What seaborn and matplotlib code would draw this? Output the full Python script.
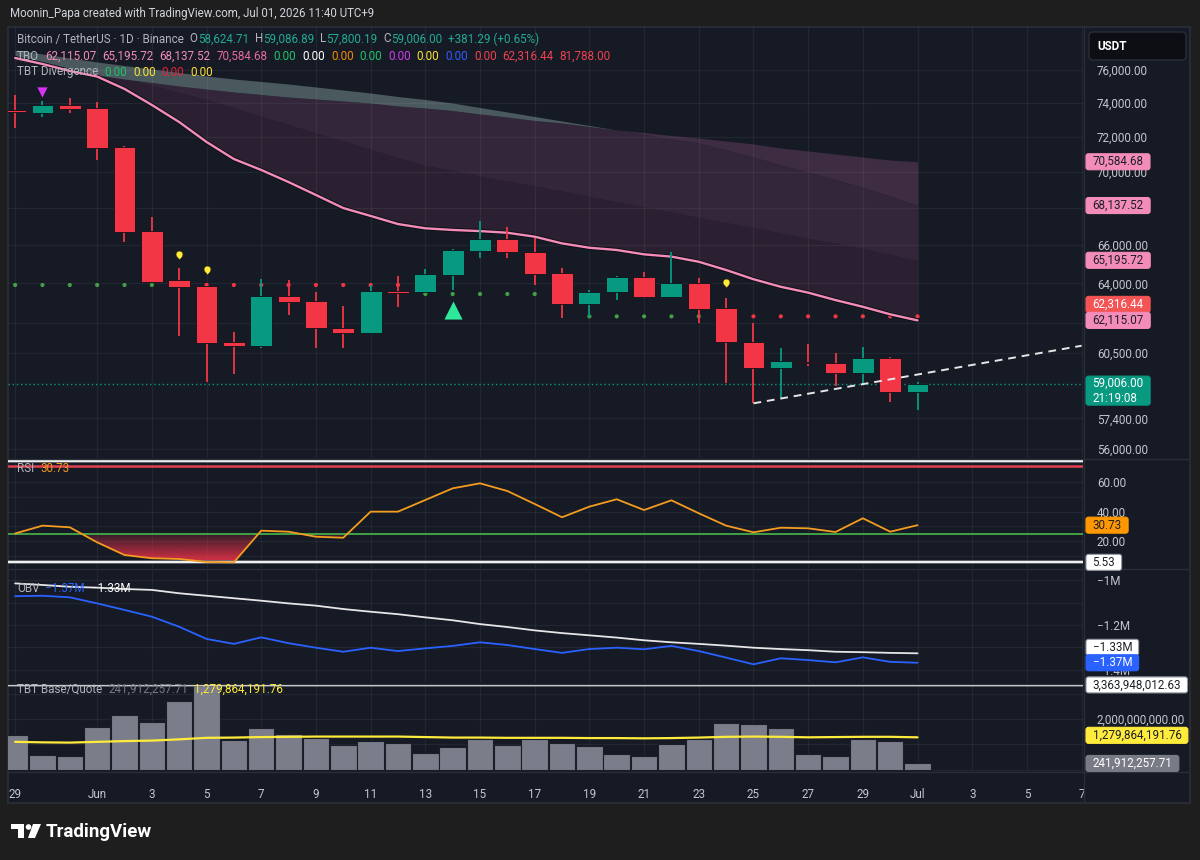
import numpy as np
import pandas as pd
import matplotlib
matplotlib.use("Agg")
import matplotlib.pyplot as plt
import matplotlib.patheffects as pe
from matplotlib.colors import ListedColormap
from matplotlib.path import Path
from matplotlib.patches import FancyBboxPatch, Rectangle, Circle, Polygon
from matplotlib.ticker import FixedLocator, FixedFormatter, NullLocator
import seaborn as sns

sns.set_theme(style="dark")
plt.rcParams["font.family"] = ["Roboto", "DejaVu Sans"]

# ---------------------------------------------------------------- data
dates = pd.date_range("2026-05-29", "2026-07-01", freq="D")

opens = [73590, 73430, 73890, 73690, 71440, 66750, 64170, 63880, 61060, 60860,
         63350, 63110, 61720, 61470, 63600, 63540, 64430, 65700, 66320, 65650,
         64520, 62920, 63540, 64310, 63280, 64000, 62720, 61060, 59760, 60080,
         60040, 59520, 60270, 58624.71]
highs = [74480, 74140, 74290, 74080, 71500, 67530, 64780, 64000, 61520, 64220,
         64170, 63540, 62840, 63910, 64380, 64760, 65800, 67310, 66990, 66360,
         64810, 63650, 64390, 64600, 65650, 64280, 63230, 61970, 60730, 60930,
         60520, 60780, 60300, 59086.89]
lows = [72530, 73190, 73390, 70680, 66180, 64050, 61340, 59120, 59470, 60730,
        62390, 60760, 60730, 61440, 62800, 63500, 63650, 65330, 65330, 63910,
        62250, 62300, 63140, 63260, 63250, 61970, 59070, 58100, 58330, 59870,
        58920, 59010, 58170, 57800.19]
closes = [73470, 73890, 73630, 71350, 66720, 64080, 63820, 61010, 60860, 63350,
          63060, 61720, 61470, 63620, 63520, 64460, 65740, 66320, 65620, 64460,
          62920, 63540, 64310, 63280, 64000, 62690, 61030, 59760, 60110, 60000,
          59520, 60250, 58625, 59006.00]

tbo_fast = [76740, 76370, 75940, 75600, 74850, 73890, 72880, 71720, 70740, 70120,
            69440, 68720, 68000, 67570, 67130, 66900, 66810, 66750, 66660, 66450,
            66090, 65860, 65740, 65510, 65390, 65120, 64690, 64210, 63820, 63520,
            63140, 62800, 62420, 62115.07]
tbo_mid = [76615, 76368, 76122, 75908, 75511, 75087, 74634, 74215, 73708, 73234,
           72734, 72238, 71774, 71284, 70825, 70372, 70088, 69778, 69497, 69218,
           68940, 68635, 68331, 68056, 67783, 67483, 67211, 66942, 66645, 66350,
           66111, 65818, 65501, 65195.72]
tbo_slow = [77235, 76986, 76739, 76492, 76276, 76061, 75847, 75634, 75451, 75299,
            75147, 74966, 74785, 74605, 74395, 74215, 74006, 73737, 73471, 73205,
            72940, 72676, 72413, 72151, 71890, 71659, 71256, 70854, 70400, 70003,
            69582, 69135, 68663, 68137.52]
tbo_slowest = [76615, 76307, 76000, 75694, 75451, 75238, 75026, 74845, 74665, 74514,
               74364, 74245, 74125, 74006, 73827, 73708, 73560, 73352, 73175, 72970,
               72822, 72618, 72413, 72268, 72093, 71948, 71774, 71601, 71371, 71198,
               71026, 70854, 70683, 70584.68]

tbo_stop = [63911, 63911, 63911, 63911, 63911, 63911, 63911, 63911, 63911, 63911,
            63911, 63911, 63911, 63911, 63911, 63449, 63449, 63449, 63449, 63449,
            63449, 62316.44, 62316.44, 62316.44, 62316.44, 62316.44, 62316.44, 62316.44,
            62316.44, 62316.44, 62316.44, 62316.44, 62316.44, 62316.44]
tbo_stop_side = ["up", "up", "up", "up", "up", "up", "down", "down", "down", "down",
                 "down", "down", "down", "down", "down", "up", "up", "up", "up", "up",
                 "up", "up", "up", "up", "up", "up", "down", "down", "down", "down",
                 "down", "down", "down", "down"]

sell_dates = ["2026-05-30"]
sell_prices = [74665]
buy_dates = ["2026-06-14"]
buy_prices = [62636]
div_dates = ["2026-06-04", "2026-06-05", "2026-06-24"]
div_prices = [65527, 64740, 64081]
trend_dates = ["2026-06-25", "2026-07-07"]
trend_prices = [58100, 60860]

last_close = 59006.00
countdown = "21:19:08"
price_ticks = [76000, 74000, 72000, 70000, 68000, 66000, 64000, 62000, 60500, 57400, 56000]
price_tick_labels = ["76,000.00", "74,000.00", "72,000.00", "70,000.00", "", "66,000.00",
                     "64,000.00", "", "60,500.00", "57,400.00", "56,000.00"]

rsi = [25.1, 30.4, 29.3, 19.1, 10.5, 8.3, 7.8, 5.8, 5.53, 27.0,
       26.3, 22.9, 22.2, 39.9, 39.9, 47.8, 55.7, 59.1, 53.9, 45.1,
       36.1, 43.3, 48.3, 41.0, 47.6, 38.8, 30.4, 25.9, 29.0, 28.6,
       26.1, 35.4, 26.3, 30.73]
rsi_top_band = 74.0
rsi_upper = 71.0
rsi_lower = 25.0
rsi_min = 5.53
rsi_ticks = [10, 20, 30, 40, 50, 60, 70]
rsi_tick_labels = ["", "20.00", "", "40.00", "", "60.00", ""]

obv = [-1.072, -1.070, -1.077, -1.104, -1.133, -1.163, -1.208, -1.262, -1.284, -1.255,
       -1.281, -1.301, -1.319, -1.301, -1.316, -1.304, -1.293, -1.277, -1.289, -1.307,
       -1.324, -1.307, -1.301, -1.308, -1.293, -1.316, -1.345, -1.375, -1.348, -1.356,
       -1.366, -1.344, -1.364, -1.368]
obv_ma = [-1.015, -1.022, -1.030, -1.034, -1.040, -1.044, -1.059, -1.070, -1.081, -1.092,
          -1.104, -1.114, -1.129, -1.141, -1.152, -1.166, -1.179, -1.196, -1.209, -1.224,
          -1.236, -1.246, -1.256, -1.268, -1.277, -1.284, -1.292, -1.301, -1.307, -1.312,
          -1.319, -1.321, -1.324, -1.326]
obv_ticks = [-1.0, -1.1, -1.2, -1.3, -1.4]
obv_tick_labels = ["\u22121M", "", "\u22121.2M", "", "\u22121.4M"]

volume_bn = [1.354, 0.580, 0.530, 1.675, 2.155, 1.907, 2.708, 3.364, 1.187, 1.663,
             1.431, 1.250, 0.994, 1.122, 1.044, 0.658, 0.878, 1.226, 0.955, 1.226,
             1.072, 0.928, 0.631, 0.530, 1.006, 1.226, 1.857, 1.806, 1.636, 0.631,
             0.542, 1.211, 1.149, 0.2419]
volume_ma_bn = [1.10, 1.08, 1.07, 1.10, 1.13, 1.15, 1.20, 1.26, 1.27, 1.29,
                1.30, 1.31, 1.31, 1.31, 1.31, 1.29, 1.27, 1.27, 1.26, 1.26,
                1.26, 1.25, 1.25, 1.24, 1.25, 1.27, 1.30, 1.31, 1.30, 1.28,
                1.29, 1.30, 1.30, 1.2799]
volume_max_bn = 3.36394801263
vol_ticks = [0, 1, 2, 3]
vol_tick_labels = ["", "", "2,000,000,000.00", ""]

tick_dates = pd.DatetimeIndex(["2026-05-29"]).append(
    pd.date_range("2026-06-01", "2026-06-29", freq="2D")).append(
    pd.date_range("2026-07-01", "2026-07-07", freq="2D"))

# ---------------------------------------------------------------- style
W, H = 1200, 860
OUTER = "#1e1e1e"
BG = "#161a25"
SEP = "#2a2e39"
AXTXT = "#c3c6ce"
LEGTXT = "#b2b5be"
GREEN = "#089981"
RED = "#f23645"
PINK = "#f38cb8"
FILL1 = "#2b2031"
FILL2 = "#33253a"
FILL3 = "#3d2c42"
GRAYBAND = "#4a595e"
FS = 8.4

fig = plt.figure(figsize=(W / 100, H / 100), dpi=100, facecolor=OUTER)


def rect(x0, y0, x1, y1):
    return [x0 / W, 1 - y1 / H, (x1 - x0) / W, (y1 - y0) / H]


frame = fig.add_axes(rect(8, 27, 1190, 803), zorder=-5)
frame.set_facecolor(BG)
frame.set_xticks([])
frame.set_yticks([])
for s in frame.spines.values():
    s.set_color(SEP)

ax_p = fig.add_axes(rect(8, 27, 1083, 458))
ax_r = fig.add_axes(rect(8, 459, 1083, 568))
ax_o = fig.add_axes(rect(8, 569, 1083, 683))
ax_v = fig.add_axes(rect(8, 684, 1083, 771))
panes = [ax_p, ax_r, ax_o, ax_v]

x = (dates - dates[0]).days.to_numpy()
tick_x = (tick_dates - dates[0]).days.to_numpy()
tick_labels = [d.strftime("%b") if d.day == 1 else str(d.day) for d in tick_dates]
XLIM = (-0.26, 39.05)

for ax in panes:
    ax.set_facecolor("none")
    for s in ax.spines.values():
        s.set_visible(False)
    ax.yaxis.tick_right()
    ax.tick_params(axis="both", length=0, labelsize=FS, colors=AXTXT, pad=10)
    ax.set_xticks(tick_x)
    ax.set_xticklabels([])
    ax.grid(True, color="#ffffff", alpha=0.055, linewidth=0.9)
    ax.set_axisbelow(True)

# ---------------------------------------------------------------- price pane
ax_p.set_yscale("log")
o, h, l, c = (np.asarray(v, float) for v in (opens, highs, lows, closes))
L1, L2, L3, L4 = (np.asarray(v, float) for v in (tbo_fast, tbo_mid, tbo_slow, tbo_slowest))

ax_p.fill_between(x, L1, L2, color=FILL1, lw=0, zorder=0.2)
ax_p.fill_between(x, L2, np.minimum(L3, L4), color=FILL2, lw=0, zorder=0.2)
ax_p.fill_between(x, L3, L4, where=L4 >= L3, interpolate=True, color=FILL3, lw=0, zorder=0.2)
ax_p.fill_between(x, L3, L4, where=L3 >= L4, interpolate=True, color=GRAYBAND, lw=0, zorder=0.2)

ax_p.axhline(last_close, color=GREEN, lw=1.0, ls=(0, (1, 2)), zorder=1)

sns.scatterplot(x=x, y=tbo_stop, hue=tbo_stop_side, palette={"up": "#43a047", "down": RED},
                s=9, linewidth=0, legend=False, ax=ax_p, zorder=1.5)

sns.lineplot(x=x, y=L1, color=PINK, linewidth=1.7, errorbar=None, ax=ax_p, zorder=2.5,
             path_effects=[pe.Stroke(linewidth=3.0, foreground="#0c0e14"), pe.Normal()])

up = c >= o
col = np.where(up, GREEN, RED)
ax_p.vlines(x, l, h, colors=col, linewidth=1.3, zorder=3)
ax_p.bar(x, np.abs(c - o), bottom=np.minimum(o, c), width=0.8, color=col,
         edgecolor="#0f121a", linewidth=0.6, zorder=4)

days_of = lambda lst: (pd.to_datetime(lst) - dates[0]).days.to_numpy()
sns.scatterplot(x=days_of(sell_dates), y=sell_prices, marker="v", s=55, color="#d633f5",
                linewidth=0, legend=False, ax=ax_p, zorder=5)
sns.scatterplot(x=days_of(buy_dates), y=buy_prices, marker="^", s=170, color="#2fe89c",
                linewidth=0, legend=False, ax=ax_p, zorder=5)
t = np.linspace(np.radians(-40), np.radians(220), 30)
drop = [(np.cos(a), np.sin(a)) for a in t] + [(0.0, -1.5)]
sns.scatterplot(x=days_of(div_dates), y=div_prices, marker=drop, s=55, color="#ffeb3b",
                edgecolor="#3a3300", linewidth=0.4, legend=False, ax=ax_p, zorder=5)

ax_p.plot(days_of(trend_dates), trend_prices, color="#e6e6e6", lw=1.4, ls=(0, (4, 3)), zorder=5)

ax_p.yaxis.set_major_locator(FixedLocator(price_ticks))
ax_p.yaxis.set_major_formatter(FixedFormatter(price_tick_labels))
ax_p.yaxis.set_minor_locator(NullLocator())
ax_p.set_xlim(XLIM)
ax_p.set_ylim(55596, 78680)

# ---------------------------------------------------------------- RSI pane
rsi_arr = np.asarray(rsi, float)
white_fx = [pe.Stroke(linewidth=2.6, foreground="#5a5d66"), pe.Normal()]
ax_r.axhline(rsi_top_band, color="#f0f0f0", lw=1.6, zorder=2, path_effects=white_fx)
ax_r.axhline(rsi_upper, color="#e0404f", lw=1.8, zorder=2)
ax_r.axhline(rsi_lower, color="#43a047", lw=1.4, zorder=2)
ax_r.axhline(rsi_min, color="#f0f0f0", lw=1.6, zorder=2, path_effects=white_fx)

fb = ax_r.fill_between(x, rsi_arr, rsi_lower, where=rsi_arr <= rsi_lower, interpolate=True,
                       facecolor="none", edgecolor="none", linewidth=0)
paths = [p for p in fb.get_paths() if len(p.vertices)]
if paths:
    clip = Path.make_compound_path(*paths)
    cols = np.zeros((256, 4))
    cols[:, 0], cols[:, 1], cols[:, 2] = 0.93, 0.20, 0.29
    cols[:, 3] = np.linspace(0.12, 0.92, 256)
    grad = np.linspace(1, 0, 256).reshape(-1, 1)
    im = ax_r.imshow(grad, extent=[x.min(), x.max(), rsi_arr.min(), rsi_lower], origin="lower",
                     aspect="auto", cmap=ListedColormap(cols), vmin=0, vmax=1, zorder=1,
                     interpolation="bilinear")
    im.set_clip_path(clip, transform=ax_r.transData)

sns.lineplot(x=x, y=rsi_arr, color="#f39c1f", linewidth=1.3, errorbar=None, ax=ax_r, zorder=3)
ax_r.yaxis.set_major_locator(FixedLocator(rsi_ticks))
ax_r.yaxis.set_major_formatter(FixedFormatter(rsi_tick_labels))
ax_r.set_xlim(XLIM)
ax_r.set_ylim(1.69, 75.6)

# ---------------------------------------------------------------- OBV pane
sns.lineplot(x=x, y=obv_ma, color="#e6e6e6", linewidth=1.3, errorbar=None, ax=ax_o, zorder=3)
sns.lineplot(x=x, y=obv, color="#2962ff", linewidth=1.3, errorbar=None, ax=ax_o, zorder=3)
ax_o.yaxis.set_major_locator(FixedLocator(obv_ticks))
ax_o.yaxis.set_major_formatter(FixedFormatter(obv_tick_labels))
ax_o.set_xlim(XLIM)
ax_o.set_ylim(-1.458, -0.951)

# ---------------------------------------------------------------- volume pane
ax_v.bar(x, volume_bn, width=0.97, color="#7b7e8a", edgecolor="#1b1e27", linewidth=0.8, zorder=2)
ax_v.axhline(volume_max_bn, color="#f0f0f0", lw=1.6, zorder=3, path_effects=white_fx)
sns.lineplot(x=x, y=volume_ma_bn, color="#ffeb3b", linewidth=1.6, errorbar=None, ax=ax_v, zorder=4)
ax_v.yaxis.set_major_locator(FixedLocator(vol_ticks))
ax_v.yaxis.set_major_formatter(FixedFormatter(vol_tick_labels))
ax_v.set_xticklabels(tick_labels)
ax_v.tick_params(axis="x", pad=12)
ax_v.set_xlim(XLIM)
ax_v.set_ylim(-0.0588, 3.40)

for ax in panes:
    ax.set_xlabel("")
    ax.set_ylabel("")

# ---------------------------------------------------------------- overlay (labels, legends)
ov = fig.add_axes([0, 0, 1, 1], zorder=10)
ov.set_xlim(0, W)
ov.set_ylim(H, 0)
ov.axis("off")
R = fig.canvas.get_renderer()


def ypx(ax, v):
    return H - ax.transData.transform((0.0, v))[1]


for yy in (458.5, 568.5, 683.5, 771.5):
    ov.plot([8, 1190], [yy, yy], color=SEP, lw=1, zorder=1)
ov.plot([1083.5, 1083.5], [27, 803], color=SEP, lw=1, zorder=1)


def text_width(tt):
    return tt.get_window_extent(renderer=R).width


def value_box(y, text, fc, tc, ec=None, padx=6.5, h=16, size=FS, ls=1.2):
    tt = ov.text(1086 + padx, y, text, color=tc, fontsize=size, va="center", ha="left",
                 zorder=6, linespacing=ls)
    w = text_width(tt) + 2 * padx
    ov.add_patch(FancyBboxPatch((1086, y - h / 2), w, h, boxstyle="round,pad=0,rounding_size=2.5",
                                fc=fc, ec=ec or fc, lw=0.8, zorder=5))


DARK = "#1c1f28"
value_box(ypx(ax_p, tbo_slowest[-1]), f"{tbo_slowest[-1]:,.2f}", PINK, DARK)
value_box(ypx(ax_p, tbo_slow[-1]), f"{tbo_slow[-1]:,.2f}", PINK, DARK)
value_box(ypx(ax_p, tbo_mid[-1]), f"{tbo_mid[-1]:,.2f}", PINK, DARK)
value_box(ypx(ax_p, tbo_stop[-1]) - 12, f"{tbo_stop[-1]:,.2f}", "#f55454", "white")
value_box(ypx(ax_p, tbo_fast[-1]), f"{tbo_fast[-1]:,.2f}", PINK, DARK)
value_box(ypx(ax_p, last_close) + 6.5, f"{last_close:,.2f}\n{countdown}", GREEN, "white", h=29)

value_box(ypx(ax_r, rsi[-1]), f"{rsi[-1]:.2f}", "#ff9800", DARK)
value_box(ypx(ax_r, rsi_min), f"{rsi_min:.2f}", "#ffffff", DARK, ec="#9598a1")

value_box(ypx(ax_o, obv_ma[-1]) - 6, f"\u2212{abs(obv_ma[-1]):.2f}M", "#ffffff", DARK, ec="#9598a1")
value_box(ypx(ax_o, obv[-1]), f"\u2212{abs(obv[-1]):.2f}M", "#2962ff", "white")

value_box(ypx(ax_v, volume_max_bn), f"{volume_max_bn * 1e9:,.2f}", "#ffffff", DARK, ec="#9598a1")
value_box(ypx(ax_v, volume_ma_bn[-1]) - 2, "1,279,864,191.76", "#ffeb3b", DARK)
value_box(ypx(ax_v, volume_bn[-1]), "241,912,257.71", "#787b86", "white")

# USDT box
ov.add_patch(FancyBboxPatch((1089, 32), 97, 28, boxstyle="round,pad=0,rounding_size=4",
                            fc="#0c0e13", ec="#2a2e39", lw=1, zorder=5))
ov.text(1097, 46, "USDT", color="white", fontsize=FS, fontweight="bold", va="center", ha="left", zorder=6)


def rainbow(xx, yy, parts, size=FS):
    cur = xx
    for txt, color, gap in parts:
        cur += gap
        tt = ov.text(cur, yy, txt, color=color, fontsize=size, va="center", ha="left", zorder=7)
        cur += text_width(tt)


TEAL = "#22ab94"
rainbow(10, 13, [("Moonin_Papa created with TradingView.com, Jul 01, 2026 11:40 UTC+9", "#d1d4dc", 0)],
        size=8.3)
rainbow(17, 39, [("Bitcoin / TetherUS \u00b7 1D \u00b7 Binance", LEGTXT, 0),
                 ("O", LEGTXT, 6), (f"{opens[-1]:,.2f}", TEAL, 0),
                 ("H", LEGTXT, 6), (f"{highs[-1]:,.2f}", TEAL, 0),
                 ("L", LEGTXT, 6), (f"{lows[-1]:,.2f}", TEAL, 0),
                 ("C", LEGTXT, 6), (f"{closes[-1]:,.2f}", TEAL, 0),
                 ("+381.29 (+0.65%)", TEAL, 6)])
rainbow(17, 56, [("TBO", LEGTXT, 0),
                 (f"{tbo_fast[-1]:,.2f}", PINK, 6), (f"{tbo_mid[-1]:,.2f}", PINK, 6),
                 (f"{tbo_slow[-1]:,.2f}", PINK, 6), (f"{tbo_slowest[-1]:,.2f}", "#e86aa6", 6),
                 ("0.00", "#1fc46b", 6), ("0.00", "#ffffff", 6), ("0.00", "#f08a00", 6),
                 ("0.00", "#1fc46b", 6), ("0.00", "#d23df0", 6), ("0.00", "#ffe433", 6),
                 ("0.00", "#2e5bff", 6), ("0.00", "#f0424f", 6),
                 (f"{tbo_stop[-1]:,.2f}", "#f0424f", 6), ("81,788.00", "#f0424f", 6)])
rainbow(17, 72, [("TBT Divergence", LEGTXT, 0), ("0.00", "#1fc46b", 6), ("0.00", "#ffe433", 6),
                 ("0.00", "#e5243b", 6), ("0.00", "#ffe433", 6)])
rainbow(17, 469, [("RSI", LEGTXT, 0), (f"{rsi[-1]:.2f}", "#f39c1f", 6)])
rainbow(17, 588, [("OBV", LEGTXT, 0), (f"\u2212{abs(obv[-1]):.2f}M", "#2962ff", 6),
                  (f"\u2212{abs(obv_ma[-1]):.2f}M", "#ffffff", 6)])
rainbow(17, 689, [("TBT Base/Quote", LEGTXT, 0), ("241,912,257.71", "#787b86", 6),
                  ("1,279,864,191.76", "#ffeb3b", 6)])

# TradingView logo
ov.add_patch(Rectangle((11, 824), 13, 5, fc="white", ec="none", zorder=6))
ov.add_patch(Rectangle((17.5, 824), 6.5, 14, fc="white", ec="none", zorder=6))
ov.add_patch(Circle((28.5, 827), 2.8, fc="white", ec="none", zorder=6))
ov.add_patch(Polygon([(33, 824), (41, 824), (35, 838), (28, 838)], closed=True, fc="white", ec="none", zorder=6))
ov.text(46, 832, "TradingView", color="white", fontsize=13.5, fontweight="bold", va="center", ha="left", zorder=6)

fig.savefig("out.png", dpi=100, facecolor=OUTER)
